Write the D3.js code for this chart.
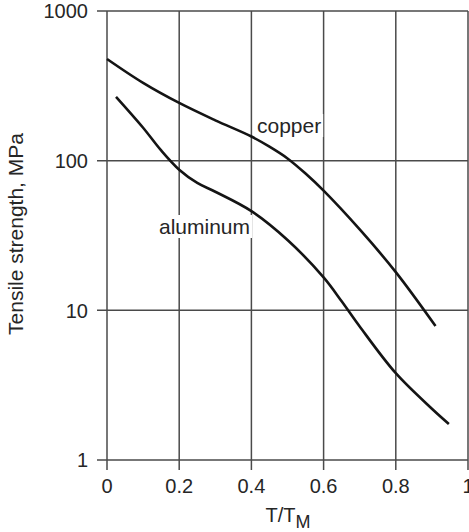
<!DOCTYPE html>
<html>
<head>
<meta charset="utf-8">
<script src="https://cdn.jsdelivr.net/npm/d3@7"></script>
<style>
  html, body { margin: 0; padding: 0; background: #fff; }
  text { font-family: "Liberation Sans", Arial, Helvetica, sans-serif; fill: #262626; }
</style>
</head>
<body>
<svg id="chart" width="469" height="532"></svg>
<script>
// ---- data ----
const copperT = [0, 0.1, 0.2, 0.3, 0.4, 0.45, 0.5, 0.55, 0.6, 0.7, 0.8, 0.91];
const copperS = [478, 331, 243, 186, 145, 124, 103.5, 82, 63, 34.7, 18, 7.85];
const aluminumT = [0.025, 0.1, 0.15, 0.2, 0.25, 0.3, 0.4, 0.5, 0.6, 0.65, 0.7, 0.8, 0.9, 0.947];
const aluminumS = [267, 166, 117, 87, 71, 62, 46, 29.5, 16.6, 11.5, 7.8, 3.8, 2.2, 1.74];
const xTicks = [0, 0.2, 0.4, 0.6, 0.8, 1];
const xTickLabels = ["0", "0.2", "0.4", "0.6", "0.8", "1"];
const yTicks = [1, 10, 100, 1000];
const yTickLabels = ["1", "10", "100", "1000"];
const seriesLabels = ["copper", "aluminum"];

const svg = d3.select("#chart");
const x = d3.scaleLinear().domain([0, 1]).range([107, 468]);
const y = d3.scaleLog().domain([1, 1000]).range([460, 11]);

const gridColor = "#4a4a4a";

// gridlines
svg.append("g").selectAll("line").data(xTicks).join("line")
  .attr("x1", d => x(d)).attr("x2", d => x(d))
  .attr("y1", y(1000)).attr("y2", y(1) + 10)
  .attr("stroke", gridColor).attr("stroke-width", 1.5);
svg.append("g").selectAll("line").data(yTicks).join("line")
  .attr("x1", x(0) - 10).attr("x2", x(1))
  .attr("y1", d => y(d)).attr("y2", d => y(d))
  .attr("stroke", gridColor).attr("stroke-width", 1.5);

// tick labels
svg.append("g").selectAll("text").data(xTicks).join("text")
  .attr("x", d => x(d)).attr("y", 493)
  .attr("text-anchor", "middle").attr("font-size", 20)
  .text((d, i) => xTickLabels[i]);
svg.append("g").selectAll("text").data(yTicks).join("text")
  .attr("x", 88).attr("y", d => y(d)).attr("dy", "0.36em")
  .attr("text-anchor", "end").attr("font-size", 20)
  .text((d, i) => yTickLabels[i]);

// labels with white background
function label(txt, lx, ly) {
  const g = svg.append("g");
  const t = g.append("text").attr("x", lx).attr("y", ly).attr("font-size", 21).text(txt);
  const b = t.node().getBBox();
  g.insert("rect", "text").attr("x", b.x - 2).attr("y", b.y).attr("width", b.width + 4)
    .attr("height", b.height).attr("fill", "#fff");
}
label(seriesLabels[0], 257, 133);
label(seriesLabels[1], 159, 234);

// curves
const line = d3.line().x(d => x(d[0])).y(d => y(d[1])).curve(d3.curveCatmullRom.alpha(0.5));
svg.append("path").datum(d3.zip(copperT, copperS)).attr("d", line)
  .attr("fill", "none").attr("stroke", "#141414").attr("stroke-width", 2.6);
svg.append("path").datum(d3.zip(aluminumT, aluminumS)).attr("d", line)
  .attr("fill", "none").attr("stroke", "#141414").attr("stroke-width", 2.6);

// axis titles
const xt = svg.append("text").attr("x", 288).attr("y", 522).attr("text-anchor", "middle").attr("font-size", 20);
xt.append("tspan").text("T/T");
xt.append("tspan").attr("dy", 6).attr("font-size", 18).text("M");

svg.append("text").attr("transform", "translate(23,234) rotate(-90)")
  .attr("text-anchor", "middle").attr("font-size", 21)
  .text("Tensile strength, MPa");
</script>
</body>
</html>
